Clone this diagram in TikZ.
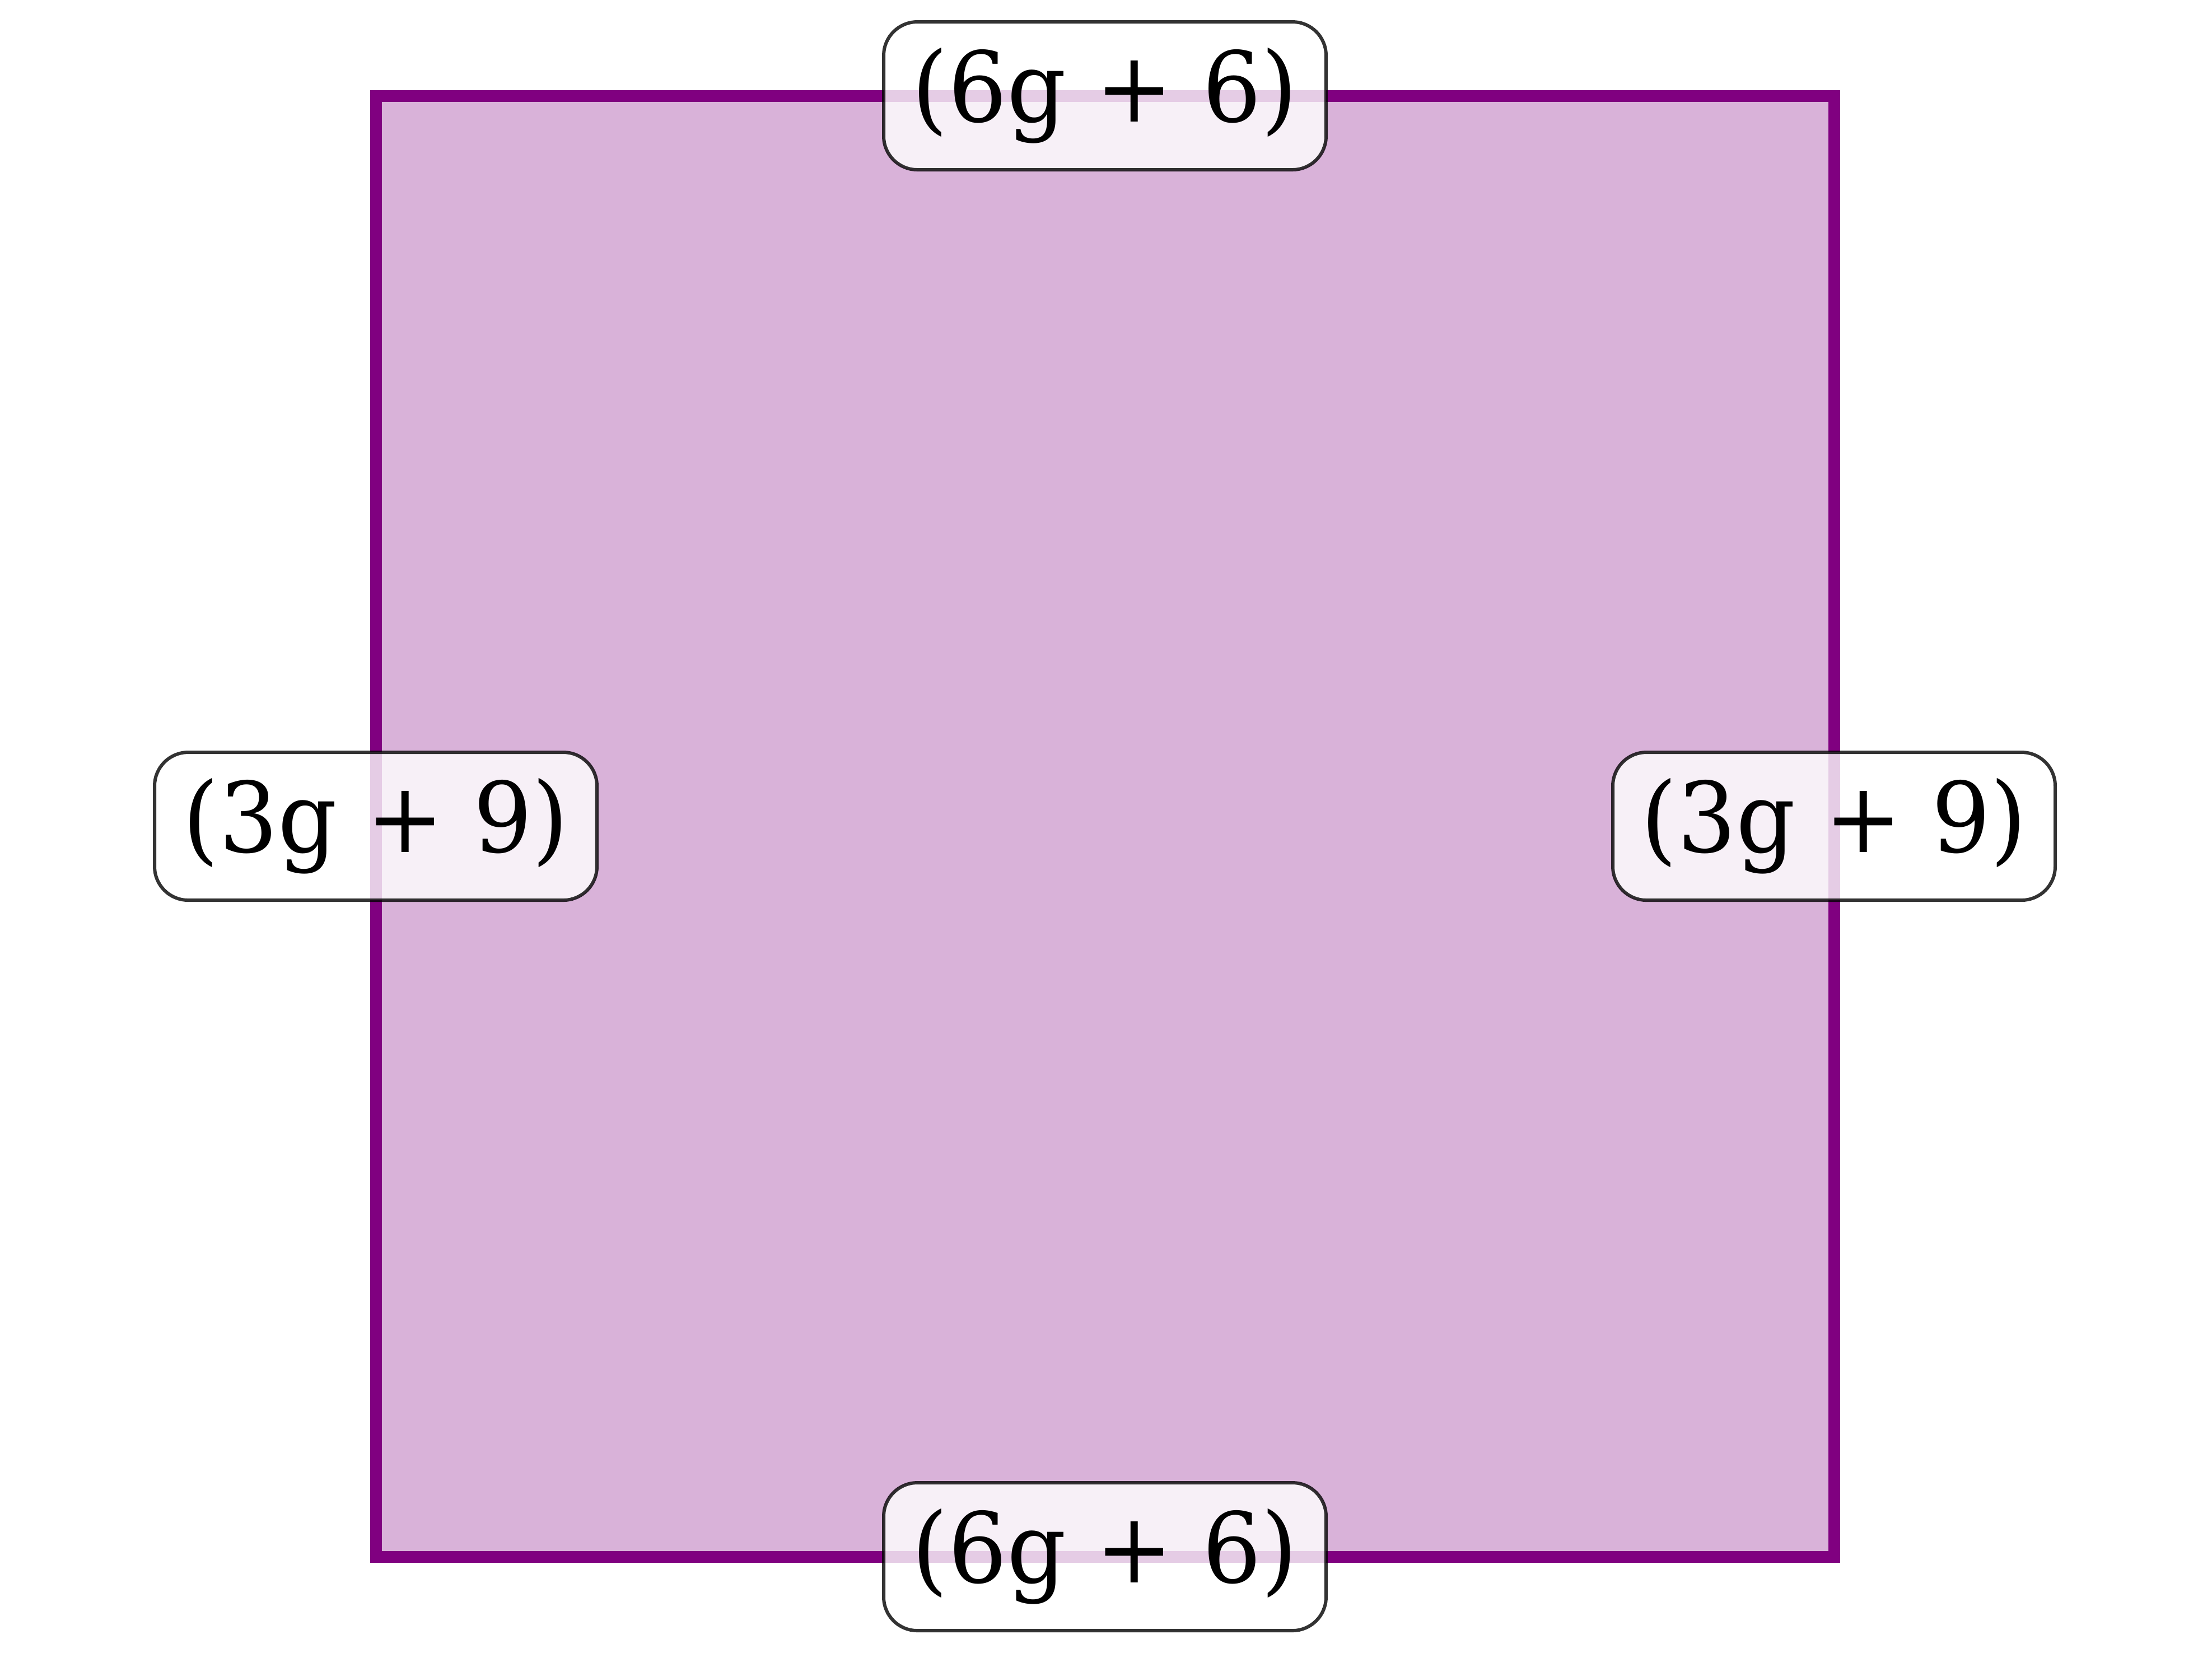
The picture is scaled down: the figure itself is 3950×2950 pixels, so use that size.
\documentclass[tikz,border=0pt]{standalone}
\usepackage{fontspec}
\setmainfont[FakeStretch=0.95]{DejaVu Serif}
\definecolor{mplpurple}{RGB}{128,0,128}
\tikzset{
  lbl/.style={draw=black, draw opacity=0.8, fill=white, fill opacity=0.8, text opacity=1,
    rounded corners=6pt, line width=0.6pt, minimum width=79pt, minimum height=26.4pt,
    inner sep=0pt, font=\fontsize{17.4}{20}\selectfont},
  sq/.style={draw=mplpurple, line width=2.1pt, fill=mplpurple, fill opacity=0.3, line join=miter}
}
\begin{document}
\begin{tikzpicture}[x=0.1pt,y=-0.1pt]
\useasboundingbox (0,0) rectangle (3950,2950);
\coordinate (tl) at (671,171);
\coordinate (br) at (3275,2779);
\draw[sq] (tl) rectangle (br);
\node[lbl] (top) at (1973,171) {(6g + 6)};
\node[lbl] (bot) at (1973,2779) {(6g + 6)};
\node[lbl] (left) at (671,1475) {(3g + 9)};
\node[lbl] (right) at (3275,1475) {(3g + 9)};
\end{tikzpicture}
\end{document}
